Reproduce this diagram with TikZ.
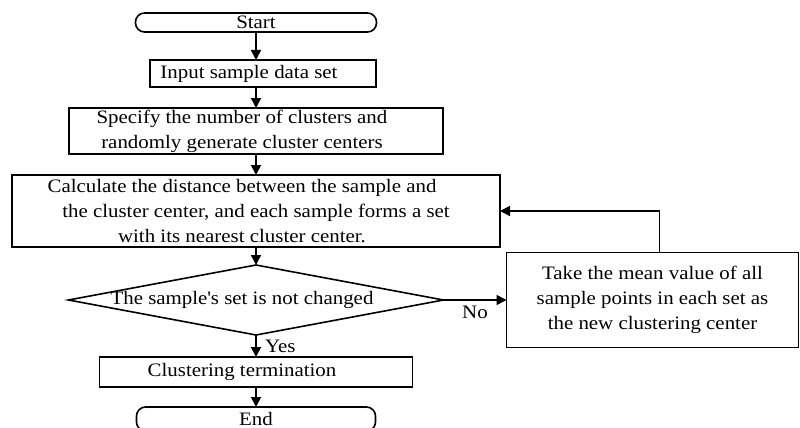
\documentclass[tikz,border=0pt]{standalone}
\usepackage{fontspec}
\setmainfont{Liberation Serif}[FakeStretch=1.1]
\usetikzlibrary{arrows.meta,positioning,shapes.geometric}

% the texts in the boxes sit a little left of centre
\newcommand{\rpad}{\hspace*{28pt}}

\begin{document}
\begin{tikzpicture}[x=1pt,y=-1pt,->,>={Triangle[length=10pt,width=10pt]},
                    line width=1.6pt,font=\fontsize{19}{25}\selectfont]
  \tikzstyle{every node}=[inner sep=0pt,outer sep=0pt,align=center]
  \tikzstyle{term}=[draw,rectangle,rounded corners=9pt,minimum width=241pt,minimum height=19pt]
  \tikzstyle{proc}=[draw,rectangle]
  \tikzstyle{decide}=[draw,diamond,minimum width=375pt,minimum height=70pt]

  \useasboundingbox (0,0) rectangle (800,428);

  \node[term]  (start) at (256,22.5)                    {Start};
  \node[proc]  (input) [below=28pt of start,xshift=7pt,minimum width=226pt,minimum height=27pt]
               {Input sample data set\rpad};
  \node[proc]  (spec)  [below=21pt of input,xshift=-7pt,minimum width=374pt,minimum height=46pt]
               {Specify the number of clusters and\rpad\\randomly generate cluster centers\rpad};
  \node[proc]  (calc)  [below=21pt of spec,minimum width=488pt,minimum height=72pt]
               {Calculate the distance between the sample and\rpad\\the cluster center, and each sample forms a set\rpad\\with its nearest cluster center.\rpad};
  \node[decide] (check) [below=18pt of calc]            {};
  \node        (checktext) at ([xshift=-14pt]check.center) {The sample\textquotesingle s set is not changed};
  \node[proc]  (mean)  [right=63pt of check,minimum width=292pt,minimum height=95pt]
               {Take the mean value of all\\sample points in each set as\\the new clustering center};
  \node[proc]  (stop)  [below=22pt of check,minimum width=313pt,minimum height=30pt]
               {Clustering termination\rpad};
  \node[term]  (end)   [below=20pt of stop,minimum width=239pt,minimum height=24pt] {End};

  \path (start) edge (start |- input.north)
        (input.south -| start) edge (spec)
        (spec)  edge (calc)
        (calc)  edge (check)
        (check) edge node[below=6pt] {No} (mean)
        (check) edge node[right=9pt] {Yes} (stop)
        (stop)  edge (end);
  \draw ([xshift=7pt]mean.north) |- (calc.east);
\end{tikzpicture}
\end{document}
